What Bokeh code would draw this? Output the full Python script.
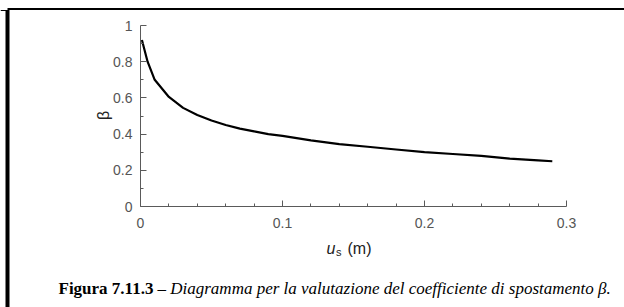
import math
from bokeh.plotting import figure
from bokeh.models import FixedTicker, Label, BoxAnnotation, Range1d
from bokeh.embed import file_html
from bokeh.resources import INLINE

# ---- data ----
u_s = [0.001, 0.005, 0.01, 0.02, 0.03, 0.04, 0.05, 0.06, 0.07, 0.08, 0.09,
       0.10, 0.12, 0.14, 0.16, 0.18, 0.20, 0.22, 0.24, 0.26, 0.28, 0.29]
beta = [0.92, 0.80, 0.70, 0.605, 0.545, 0.505, 0.475, 0.45, 0.43, 0.415, 0.40,
        0.39, 0.365, 0.345, 0.33, 0.315, 0.30, 0.29, 0.28, 0.265, 0.255, 0.25]

x_major = [0, 0.1, 0.2, 0.3]
x_major_labels = ["0", "0.1", "0.2", "0.3"]
x_minor = [0.02, 0.04, 0.06, 0.08, 0.12, 0.14, 0.16, 0.18,
           0.22, 0.24, 0.26, 0.28]
y_major = [0, 0.2, 0.4, 0.6, 0.8, 1.0]
y_major_labels = ["0", "0.2", "0.4", "0.6", "0.8", "1"]
y_minor = [0.1, 0.3, 0.5, 0.7, 0.9]

x_label_main = "u"
x_label_sub = "s"
x_label_unit = "(m)"
y_label = "β"
caption_bold = "Figura 7.11.3"
caption_italic = "– Diagramma per la valutazione del coefficiente di spostamento β."

# ---- layout (pixels on the canvas) ----
W, H = 624, 307
AX_L, AX_R, AX_T, AX_B = 140, 566, 25, 206   # where the axes' ends sit
X0, X1 = 0.0, 0.3
Y0, Y1 = 0.0, 1.0
KX = (AX_R - AX_L) / (X1 - X0)
KY = (AX_B - AX_T) / (Y1 - Y0)


def dx(px):
    return X0 + (px - AX_L) / KX


def dy(py):
    return Y0 + (AX_B - py) / KY


p = figure(width=W, height=H,
           x_range=Range1d(dx(0), dx(W)), y_range=Range1d(dy(H), dy(0)),
           output_backend="svg", toolbar_location=None,
           min_border_left=0, min_border_right=0,
           min_border_top=0, min_border_bottom=0)
p.outline_line_color = None
p.grid.visible = False
p.background_fill_color = "white"
p.border_fill_color = "white"

p.line(u_s, beta, line_width=2.2, line_color="black")

axc = "#5a5a5a"
for ax in (p.xaxis[0], p.yaxis[0]):
    ax.fixed_location = 0
    ax.axis_line_color = axc
    ax.major_tick_line_color = axc
    ax.minor_tick_line_color = axc
    ax.major_tick_in = 6
    ax.major_tick_out = 0
    ax.minor_tick_in = 3
    ax.minor_tick_out = 0
    ax.major_label_text_font = "Liberation Sans"
    ax.major_label_text_font_size = "14px"
    ax.major_label_text_color = "#555555"

p.xaxis[0].bounds = (X0, X1)
p.xaxis[0].ticker = FixedTicker(ticks=x_major, minor_ticks=x_minor)
p.xaxis[0].major_label_overrides = dict(zip(x_major, x_major_labels))
p.xaxis[0].major_label_standoff = 11
p.yaxis[0].bounds = (Y0, Y1)
p.yaxis[0].ticker = FixedTicker(ticks=y_major, minor_ticks=y_minor)
p.yaxis[0].major_label_overrides = dict(zip(y_major, y_major_labels))
p.yaxis[0].major_label_standoff = 8

# y axis label (rotated beta)
p.add_layout(Label(x=dx(103), y=dy(115), text=y_label, angle=math.pi / 2,
                   text_align="center", text_baseline="middle",
                   text_font="Liberation Sans", text_font_size="16px",
                   text_color="#222222"))

# x axis label with italic u and subscript s
p.add_layout(Label(x=dx(335), y=dy(248), text=x_label_main, text_align="right",
                   text_baseline="alphabetic", text_font="Liberation Sans",
                   text_font_style="italic", text_font_size="16px", text_color="#222222"))
p.add_layout(Label(x=dx(335.5), y=dy(251), text=x_label_sub, text_align="left",
                   text_baseline="alphabetic", text_font="Liberation Sans",
                   text_font_size="11px", text_color="#222222"))
p.add_layout(Label(x=dx(347), y=dy(248), text=x_label_unit, text_align="left",
                   text_baseline="alphabetic", text_font="Liberation Sans",
                   text_font_size="16px", text_color="#222222"))

# caption
p.add_layout(Label(x=dx(58), y=dy(288), text=caption_bold, text_align="left",
                   text_baseline="alphabetic", text_font="Liberation Serif",
                   text_font_style="bold", text_font_size="17px", text_color="black"))
p.add_layout(Label(x=dx(157), y=dy(288), text=caption_italic, text_align="left",
                   text_baseline="alphabetic", text_font="Liberation Serif",
                   text_font_style="italic", text_font_size="17px", text_color="black"))

# page frame lines (top rule, corner stub and left bar)
p.add_layout(BoxAnnotation(left=dx(7), right=dx(W), top=dy(7.5), bottom=dy(9.5),
                           fill_color="black", fill_alpha=1.0, line_color=None))
p.add_layout(BoxAnnotation(left=dx(0), right=dx(7), top=dy(9.5), bottom=dy(10.5),
                           fill_color="black", fill_alpha=1.0, line_color=None))
p.add_layout(BoxAnnotation(left=dx(5), right=dx(9), top=dy(9.5), bottom=dy(H),
                           fill_color="black", fill_alpha=1.0, line_color=None))

open("out.html", "w").write(file_html(p, INLINE))
